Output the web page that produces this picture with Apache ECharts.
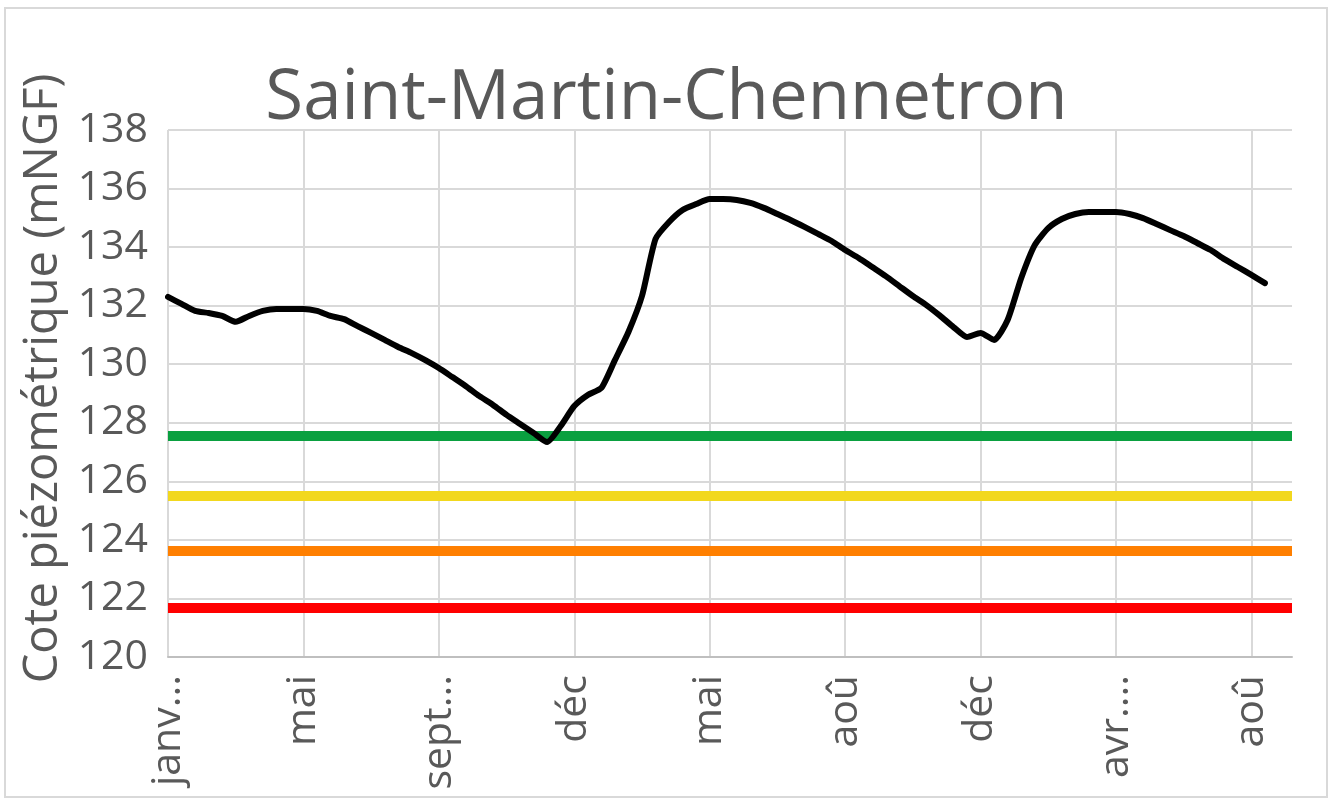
<!DOCTYPE html>
<html>
<head>
<meta charset="utf-8">
<title>Saint-Martin-Chennetron</title>
<script src="https://cdn.jsdelivr.net/npm/echarts@6/dist/echarts.min.js"></script>
<style>
    html, body { margin: 0; padding: 0; background: #fff; }
    #chart { width: 1333px; height: 803px; }
</style>
</head>
<body>
<div id="chart"></div>
<script>
//  axis labels shown every 10 measurements
const tickLabels = ['janv...', 'mai', 'sept...', 'déc', 'mai', 'aoû', 'déc', 'avr....', 'aoû'];
const pointCount = 84;
const labelStep = 10;

//  cote piézométrique (mNGF)
const levels = [
    132.30, 132.06, 131.82, 131.75, 131.65, 131.45, 131.65, 131.82, 131.89, 131.89,
    131.89, 131.82, 131.65, 131.54, 131.30, 131.07, 130.83, 130.59, 130.38, 130.14,
    129.87, 129.56, 129.25, 128.91, 128.61, 128.27, 127.96, 127.65, 127.34, 127.89,
    128.57, 128.95, 129.19, 130.14, 131.10, 132.33, 134.28, 134.86, 135.27, 135.47,
    135.64, 135.64, 135.61, 135.51, 135.34, 135.13, 134.92, 134.69, 134.45, 134.21,
    133.90, 133.63, 133.32, 133.01, 132.67, 132.33, 132.02, 131.66, 131.27, 130.93,
    131.07, 130.83, 131.51, 132.94, 134.07, 134.65, 134.96, 135.13, 135.20, 135.20,
    135.20, 135.13, 134.99, 134.79, 134.58, 134.38, 134.14, 133.90, 133.59, 133.32,
    133.05, 132.77
];

//  seuils
const thresholdValues = [127.55, 125.5, 123.62, 121.67];
const thresholdColors = ['#0aa040', '#f2d81e', '#ff7f00', '#ff0000'];

const categories = Array.from({length: pointCount}, (_, i) => 'p' + i);

const textGray = '#595959';
const gridGray = '#d9d9d9';

const myChart = echarts.init(document.getElementById('chart'));

const thresholdSeries = thresholdValues.map(function (v, k) {
    return {
        type: 'line',
        data: [],
        silent: true,
        z: 2,
        markLine: {
            symbol: 'none',
            silent: true,
            label: {show: false},
            lineStyle: {color: thresholdColors[k], width: 10, type: 'solid'},
            data: [{yAxis: v}]
        }
    };
});

myChart.setOption({
    animation: false,
    title: {
        text: 'Saint-Martin-Chennetron',
        left: 'center',
        top: 60,
        textStyle: {
            fontFamily: 'Open Sans',
            fontWeight: 'normal',
            fontSize: 69,
            color: textGray
        }
    },
    graphic: [
        {
            type: 'rect',
            shape: {x: 5, y: 8, width: 1322, height: 789},
            style: {fill: 'none', stroke: gridGray, lineWidth: 2},
            silent: true
        }
    ],
    grid: {
        left: 168,
        right: 41,
        top: 130,
        bottom: 146
    },
    xAxis: {
        type: 'category',
        boundaryGap: false,
        data: categories,
        axisLine: {lineStyle: {color: '#bfbfbf', width: 2}},
        axisTick: {show: false},
        axisLabel: {
            interval: labelStep - 1,
            rotate: 90,
            margin: 18,
            fontFamily: 'Open Sans',
            fontSize: 41,
            color: textGray,
            formatter: function (value, index) {
                return index % labelStep === 0 ? tickLabels[index / labelStep] : '';
            }
        },
        splitLine: {
            show: true,
            interval: labelStep - 1,
            lineStyle: {color: gridGray, width: 2}
        }
    },
    yAxis: {
        type: 'value',
        min: 120,
        max: 138,
        interval: 2,
        name: 'Cote piézométrique (mNGF)',
        nameLocation: 'middle',
        nameGap: 98,
        nameTextStyle: {
            fontFamily: 'Open Sans',
            fontSize: 47,
            color: textGray,
            padding: [0, 0, 0, 30]
        },
        axisLine: {show: false},
        axisTick: {show: false},
        axisLabel: {
            margin: 20,
            fontFamily: 'Open Sans',
            fontSize: 41,
            color: textGray
        },
        splitLine: {lineStyle: {color: gridGray, width: 2}}
    },
    series: thresholdSeries.concat([
        {
            type: 'line',
            data: levels,
            showSymbol: false,
            smooth: 0.2,
            z: 5,
            lineStyle: {color: '#000000', width: 6, cap: 'round', join: 'round'}
        }
    ])
});
</script>
</body>
</html>
